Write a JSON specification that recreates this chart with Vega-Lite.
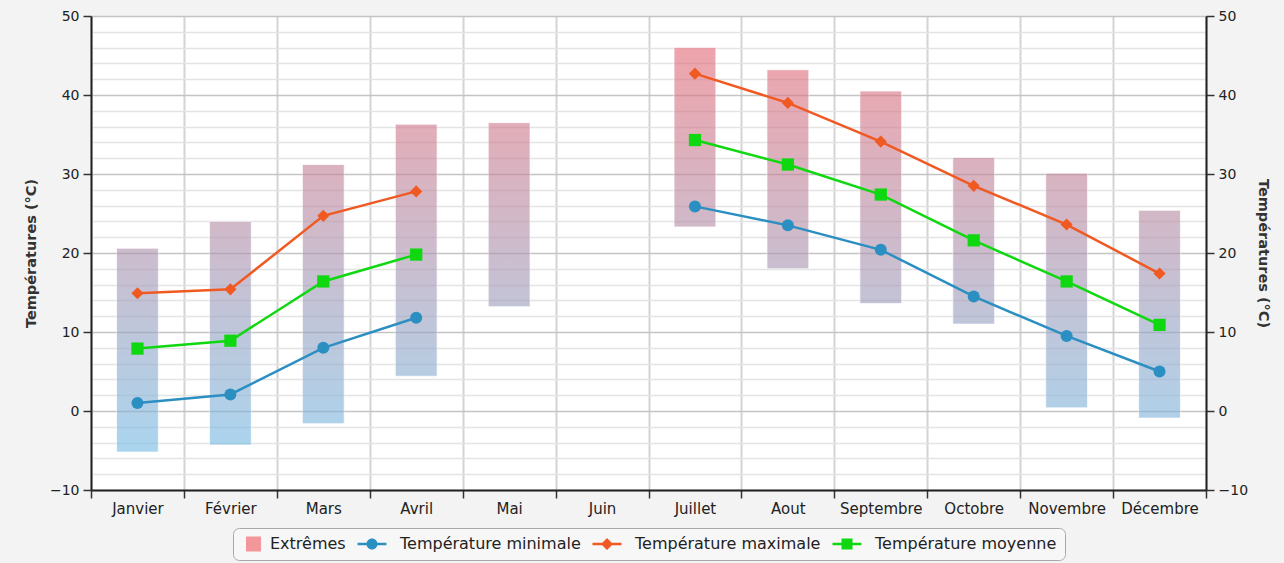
{
  "$schema": "https://vega.github.io/schema/vega-lite/v6.json",
  "width": 1115,
  "height": 474,
  "autosize": "none",
  "padding": {"left": 91, "top": 16, "right": 78, "bottom": 73},
  "background": "#f3f3f3",
  "config": {
    "view": {"fill": "white", "stroke": null},
    "font": "DejaVu Sans",
    "axis": {"labelFont": "DejaVu Sans", "titleFont": "DejaVu Sans"},
    "legend": {"labelFont": "DejaVu Sans", "layout": {"bottom": {"anchor": "middle"}}}
  },
  "data": {
    "values": [
      {"mois": "Janvier", "bas": -5.2, "haut": 20.6, "Température minimale": 1.0, "Température maximale": 14.9, "Température moyenne": 7.9},
      {"mois": "Février", "bas": -4.3, "haut": 24.0, "Température minimale": 2.1, "Température maximale": 15.4, "Température moyenne": 8.9},
      {"mois": "Mars", "bas": -1.6, "haut": 31.2, "Température minimale": 8.0, "Température maximale": 24.7, "Température moyenne": 16.4},
      {"mois": "Avril", "bas": 4.4, "haut": 36.3, "Température minimale": 11.8, "Température maximale": 27.8, "Température moyenne": 19.8},
      {"mois": "Mai", "bas": 13.2, "haut": 36.5, "Température minimale": null, "Température maximale": null, "Température moyenne": null},
      {"mois": "Juin", "bas": null, "haut": null, "Température minimale": null, "Température maximale": null, "Température moyenne": null},
      {"mois": "Juillet", "bas": 23.3, "haut": 46.0, "Température minimale": 25.9, "Température maximale": 42.7, "Température moyenne": 34.3},
      {"mois": "Aout", "bas": 18.0, "haut": 43.2, "Température minimale": 23.5, "Température maximale": 39.0, "Température moyenne": 31.2},
      {"mois": "Septembre", "bas": 13.6, "haut": 40.5, "Température minimale": 20.4, "Température maximale": 34.1, "Température moyenne": 27.4},
      {"mois": "Octobre", "bas": 11.0, "haut": 32.1, "Température minimale": 14.5, "Température maximale": 28.5, "Température moyenne": 21.6},
      {"mois": "Novembre", "bas": 0.4, "haut": 30.1, "Température minimale": 9.5, "Température maximale": 23.6, "Température moyenne": 16.4},
      {"mois": "Décembre", "bas": -0.9, "haut": 25.4, "Température minimale": 5.0, "Température maximale": 17.4, "Température moyenne": 10.9}
    ]
  },
  "resolve": {"axis": {"y": "independent"}},
  "layer": [
    {
      "mark": {"type": "bar", "opacity": 0.62, "stroke": "white", "strokeWidth": 1, "strokeOpacity": 0.7, "width": {"band": 0.45}},
      "encoding": {
        "x": {
          "field": "mois", "type": "nominal",
          "sort": ["Janvier","Février","Mars","Avril","Mai","Juin","Juillet","Aout","Septembre","Octobre","Novembre","Décembre"],
          "scale": {"paddingInner": 0, "paddingOuter": 0},
          "axis": {
            "title": null, "labelAngle": 0, "tickBand": "extent", "grid": true,
            "gridColor": "#d4d4d4", "gridWidth": 2,
            "domainColor": "#222", "domainWidth": 2,
            "tickColor": "#333", "tickSize": 8, "tickWidth": 1.5,
            "labelFontSize": 15, "labelColor": "#222", "labelPadding": 3
          }
        },
        "y": {
          "field": "haut", "type": "quantitative",
          "scale": {"domain": [-10, 50], "nice": false, "zero": false},
          "axis": {
            "orient": "left",
            "values": [-10,-8,-6,-4,-2,0,2,4,6,8,10,12,14,16,18,20,22,24,26,28,30,32,34,36,38,40,42,44,46,48,50],
            "labelExpr": "datum.value % 10 === 0 ? datum.label : ''",
            "title": "Températures (°C)", "titleFontSize": 14.5, "titleFontWeight": "bold", "titleColor": "#333", "titlePadding": 11,
            "grid": true,
            "gridColor": {"condition": {"test": "datum.value % 10 === 0", "value": "#c4c4c4"}, "value": "#e4e4e4"},
            "gridWidth": 1.5,
            "tickColor": {"condition": {"test": "datum.value % 10 === 0", "value": "#333"}, "value": "transparent"},
            "tickSize": 8, "tickWidth": 1.5,
            "domainColor": "#222", "domainWidth": 2,
            "labelFontSize": 14, "labelColor": "#222", "labelPadding": 4
          }
        },
        "y2": {"field": "bas"},
        "fill": {
          "condition": [
            {"test": "datum.mois === 'Janvier'", "value": {"gradient": "linear", "x1": 0, "x2": 0, "y1": -1.1395, "y2": 1.186, "stops": [{"offset": 0, "color": "#ee6670"}, {"offset": 1, "color": "#6cc4f0"}]}},
            {"test": "datum.mois === 'Février'", "value": {"gradient": "linear", "x1": 0, "x2": 0, "y1": -0.9187, "y2": 1.2014, "stops": [{"offset": 0, "color": "#ee6670"}, {"offset": 1, "color": "#6cc4f0"}]}},
            {"test": "datum.mois === 'Mars'", "value": {"gradient": "linear", "x1": 0, "x2": 0, "y1": -0.5732, "y2": 1.2561, "stops": [{"offset": 0, "color": "#ee6670"}, {"offset": 1, "color": "#6cc4f0"}]}},
            {"test": "datum.mois === 'Avril'", "value": {"gradient": "linear", "x1": 0, "x2": 0, "y1": -0.4295, "y2": 1.4514, "stops": [{"offset": 0, "color": "#ee6670"}, {"offset": 1, "color": "#6cc4f0"}]}},
            {"test": "datum.mois === 'Mai'", "value": {"gradient": "linear", "x1": 0, "x2": 0, "y1": -0.5794, "y2": 1.9957, "stops": [{"offset": 0, "color": "#ee6670"}, {"offset": 1, "color": "#6cc4f0"}]}},
            {"test": "datum.mois === 'Juillet'", "value": {"gradient": "linear", "x1": 0, "x2": 0, "y1": -0.1762, "y2": 2.467, "stops": [{"offset": 0, "color": "#ee6670"}, {"offset": 1, "color": "#6cc4f0"}]}},
            {"test": "datum.mois === 'Aout'", "value": {"gradient": "linear", "x1": 0, "x2": 0, "y1": -0.2698, "y2": 2.1111, "stops": [{"offset": 0, "color": "#ee6670"}, {"offset": 1, "color": "#6cc4f0"}]}},
            {"test": "datum.mois === 'Septembre'", "value": {"gradient": "linear", "x1": 0, "x2": 0, "y1": -0.3532, "y2": 1.8773, "stops": [{"offset": 0, "color": "#ee6670"}, {"offset": 1, "color": "#6cc4f0"}]}},
            {"test": "datum.mois === 'Octobre'", "value": {"gradient": "linear", "x1": 0, "x2": 0, "y1": -0.8483, "y2": 1.9953, "stops": [{"offset": 0, "color": "#ee6670"}, {"offset": 1, "color": "#6cc4f0"}]}},
            {"test": "datum.mois === 'Novembre'", "value": {"gradient": "linear", "x1": 0, "x2": 0, "y1": -0.67, "y2": 1.3502, "stops": [{"offset": 0, "color": "#ee6670"}, {"offset": 1, "color": "#6cc4f0"}]}},
            {"test": "datum.mois === 'Décembre'", "value": {"gradient": "linear", "x1": 0, "x2": 0, "y1": -0.9354, "y2": 1.346, "stops": [{"offset": 0, "color": "#ee6670"}, {"offset": 1, "color": "#6cc4f0"}]}}
          ],
          "value": "#c0a0b8"
        }
      }
    },
    {
      "transform": [{"fold": ["Température minimale", "Température maximale", "Température moyenne"], "as": ["serie", "temp"]}],
      "mark": {"type": "line", "strokeWidth": 2.5},
      "encoding": {
        "x": {"field": "mois", "type": "nominal", "sort": ["Janvier","Février","Mars","Avril","Mai","Juin","Juillet","Aout","Septembre","Octobre","Novembre","Décembre"]},
        "y": {
          "field": "temp", "type": "quantitative",
          "scale": {"domain": [-10, 50], "nice": false, "zero": false},
          "axis": {
            "orient": "right",
            "values": [-10,-8,-6,-4,-2,0,2,4,6,8,10,12,14,16,18,20,22,24,26,28,30,32,34,36,38,40,42,44,46,48,50],
            "labelExpr": "datum.value % 10 === 0 ? datum.label : ''",
            "title": "Températures (°C)", "titleFontSize": 14.5, "titleFontWeight": "bold", "titleColor": "#333", "titlePadding": 8,
            "grid": false,
            "tickColor": {"condition": {"test": "datum.value % 10 === 0", "value": "#333"}, "value": "transparent"},
            "tickSize": 8, "tickWidth": 1.5,
            "domainColor": "#222", "domainWidth": 2,
            "labelFontSize": 14, "labelColor": "#222", "labelPadding": 4
          }
        },
        "color": {
          "field": "serie", "type": "nominal",
          "scale": {"domain": ["Extrêmes", "Température minimale", "Température maximale", "Température moyenne"], "range": ["#f4979b", "#2b8fc2", "#f05a22", "#10d810"]},
          "legend": {
            "title": null, "orient": "bottom", "direction": "horizontal", "offset": 12,
            "strokeColor": "#a8a8a8", "fillColor": "#f7f7f7", "cornerRadius": 6, "padding": 8,
            "labelFontSize": 16, "labelColor": "#222", "labelOffset": 13, "columnPadding": 11, "labelLimit": 400,
            "symbolSize": 100, "symbolStrokeWidth": 0,
            "encode": {
              "symbols": {
                "update": {
                  "fill": {"scale": "color", "field": "value"},
                  "stroke": {"value": "transparent"},
                  "opacity": {"value": 1},
                  "shape": {"signal": "datum.value === 'Extrêmes' ? 'M -0.6 -1.5 H 2.4 V 1.5 H -0.6 Z' : datum.value === 'Température minimale' ? 'M -4.3 -0.25 H -2.4 V 0.25 H -4.3 Z M -0.4 -0.25 H 1.5 V 0.25 H -0.4 Z M -2.5 0 A 1.1 1.1 0 1 1 -0.3 0 A 1.1 1.1 0 1 1 -2.5 0 Z' : datum.value === 'Température maximale' ? 'M -4.3 -0.25 H -2.4 V 0.25 H -4.3 Z M -0.4 -0.25 H 1.5 V 0.25 H -0.4 Z M -1.4 -1.2 L -0.2 0 L -1.4 1.2 L -2.6 0 Z' : 'M -4.3 -0.25 H -2.4 V 0.25 H -4.3 Z M -0.4 -0.25 H 1.5 V 0.25 H -0.4 Z M -2.5 -1.1 H -0.3 V 1.1 H -2.5 Z'"}
                }
              }
            }
          }
        }
      }
    },
    {
      "transform": [{"fold": ["Température minimale", "Température maximale", "Température moyenne"], "as": ["serie", "temp"]}],
      "mark": {"type": "point", "filled": true, "opacity": 1},
      "encoding": {
        "x": {"field": "mois", "type": "nominal", "sort": ["Janvier","Février","Mars","Avril","Mai","Juin","Juillet","Aout","Septembre","Octobre","Novembre","Décembre"]},
        "y": {"field": "temp", "type": "quantitative", "scale": {"domain": [-10, 50], "nice": false, "zero": false}, "axis": null},
        "color": {
          "field": "serie", "type": "nominal",
          "scale": {"domain": ["Extrêmes", "Température minimale", "Température maximale", "Température moyenne"], "range": ["#f4979b", "#2b8fc2", "#f05a22", "#10d810"]},
          "legend": {
            "title": null, "orient": "bottom", "direction": "horizontal", "offset": 12,
            "strokeColor": "#a8a8a8", "fillColor": "#f7f7f7", "cornerRadius": 6, "padding": 8,
            "labelFontSize": 16, "labelColor": "#222", "labelOffset": 13, "columnPadding": 11, "labelLimit": 400,
            "symbolSize": 100, "symbolStrokeWidth": 0,
            "encode": {
              "symbols": {
                "update": {
                  "fill": {"scale": "color", "field": "value"},
                  "stroke": {"value": "transparent"},
                  "opacity": {"value": 1},
                  "shape": {"signal": "datum.value === 'Extrêmes' ? 'M -0.6 -1.5 H 2.4 V 1.5 H -0.6 Z' : datum.value === 'Température minimale' ? 'M -4.3 -0.25 H -2.4 V 0.25 H -4.3 Z M -0.4 -0.25 H 1.5 V 0.25 H -0.4 Z M -2.5 0 A 1.1 1.1 0 1 1 -0.3 0 A 1.1 1.1 0 1 1 -2.5 0 Z' : datum.value === 'Température maximale' ? 'M -4.3 -0.25 H -2.4 V 0.25 H -4.3 Z M -0.4 -0.25 H 1.5 V 0.25 H -0.4 Z M -1.4 -1.2 L -0.2 0 L -1.4 1.2 L -2.6 0 Z' : 'M -4.3 -0.25 H -2.4 V 0.25 H -4.3 Z M -0.4 -0.25 H 1.5 V 0.25 H -0.4 Z M -2.5 -1.1 H -0.3 V 1.1 H -2.5 Z'"}
                }
              }
            }
          }
        },
        "shape": {
          "field": "serie", "type": "nominal",
          "scale": {"domain": ["Température minimale", "Température maximale", "Température moyenne"], "range": ["circle", "diamond", "square"]},
          "legend": null
        },
        "size": {
          "field": "serie", "type": "nominal",
          "scale": {"domain": ["Température minimale", "Température maximale", "Température moyenne"], "range": [144, 150, 160]},
          "legend": null
        }
      }
    }
  ]
}
